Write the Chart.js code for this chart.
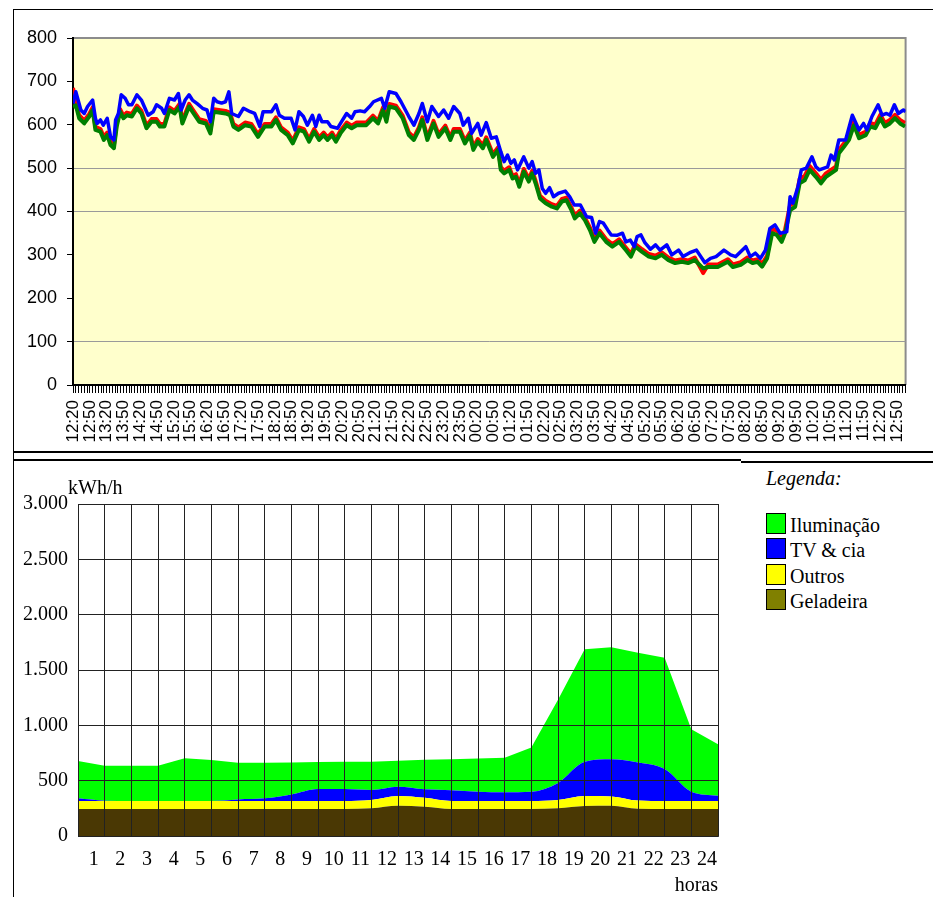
<!DOCTYPE html>
<html>
<head>
<meta charset="utf-8">
<script src="https://cdn.jsdelivr.net/npm/chart.js@4.4.1/dist/chart.umd.min.js"></script>
<style>
  body { margin: 0; background: #fff; width: 933px; height: 897px; position: relative; overflow: hidden; }
  canvas { position: absolute; }
  .line { position: absolute; background: #000; }
  .txt { position: absolute; font-family: 'Liberation Serif', 'Times New Roman', serif; font-size: 20px; line-height: 20px; color: #000; white-space: nowrap; }
  .box { position: absolute; width: 18px; height: 19px; border: 1.5px solid #000; }
</style>
</head>
<body>

<div class="line" style="left:13px; top:9px; width:920px; height:1px;"></div>
<div class="line" style="left:13px; top:9px; width:1px; height:888px;"></div>
<div class="line" style="left:13px; top:451px; width:920px; height:2px;"></div>
<div class="line" style="left:13px; top:459px; width:728px; height:2px;"></div>
<div class="line" style="left:741px; top:461px; width:192px; height:2px;"></div>

<canvas id="loadChart" width="919" height="440" style="left:14px; top:11px;"></canvas>
<canvas id="hourChart" width="726" height="435" style="left:14px; top:462px;"></canvas>

<div class="txt" style="left:68px; top:477px;">kWh/h</div>
<div class="txt" style="left:766px; top:468px; font-style:italic;">Legenda:</div>
<div id="legend"></div>

<script>
// ---- top chart: load curves; times are minutes after 12:20, read at each turn of the trace ----
const timeLabels = ['12:20','12:50','13:20','13:50','14:20','14:50','15:20','15:50','16:20','16:50',
    '17:20','17:50','18:20','18:50','19:20','19:50','20:20','20:50','21:20','21:50',
    '22:20','22:50','23:20','23:50','00:20','00:50','01:20','01:50','02:20','02:50',
    '03:20','03:50','04:20','04:50','05:20','05:50','06:20','06:50','07:20','07:50',
    '08:20','08:50','09:20','09:50','10:20','10:50','11:20','11:50','12:20','12:50'];

const blueTimes = [
    0, 5, 14, 20, 26, 35, 40, 43, 49, 54, 61, 67, 73, 76, 81, 86, 93, 99, 105, 114,
    122, 134, 143, 149, 158, 163, 172, 181, 188, 193, 200, 207, 213, 222, 231, 239, 245, 251, 257, 265,
    272, 278, 283, 295, 304, 316, 324, 333, 339, 354, 362, 368, 377, 389, 396, 403, 411, 418, 427, 433,
    439, 444, 454, 460, 472, 479, 488, 497, 503, 512, 520, 529, 536, 550, 556, 564, 576, 585, 599, 608,
    617, 623, 632, 640, 652, 661, 670, 679, 690, 696, 705, 711, 722, 728, 737, 746, 755, 763, 769, 775,
    781, 787, 793, 804, 813, 819, 825, 831, 837, 843, 850, 857, 866, 878, 886, 894, 905, 916, 925, 932,
    939, 946, 954, 960, 970, 980, 986, 994, 1001, 1006, 1013, 1020, 1030, 1039, 1047, 1059, 1068, 1080, 1088, 1100,
    1112, 1127, 1137, 1147, 1161, 1173, 1182, 1200, 1208, 1217, 1226, 1235, 1243, 1252, 1261, 1273, 1279, 1284, 1293, 1299,
    1308, 1318, 1325, 1331, 1346, 1352, 1358, 1366, 1378, 1390, 1402, 1410, 1416, 1425, 1436, 1443, 1451, 1457, 1465, 1472,
    1481, 1485];
const blueValues = [
    649, 676, 634, 626, 642, 657, 615, 603, 611, 599, 615, 572, 565, 611, 626, 669, 661, 646, 646, 669,
    657, 622, 630, 646, 638, 626, 661, 657, 672, 634, 657, 669, 657, 648, 638, 634, 607, 661, 653, 650,
    653, 676, 626, 619, 638, 630, 626, 596, 630, 630, 646, 622, 615, 615, 588, 630, 619, 599, 622, 596,
    622, 607, 607, 596, 592, 607, 626, 615, 630, 632, 630, 642, 653, 661, 638, 676, 672, 653, 619, 599,
    626, 649, 607, 642, 619, 634, 615, 642, 626, 599, 615, 580, 603, 576, 605, 569, 572, 538, 515, 530,
    511, 519, 496, 526, 500, 515, 488, 496, 453, 442, 455, 434, 442, 447, 434, 415, 415, 388, 386, 350,
    377, 373, 357, 346, 345, 350, 330, 334, 319, 342, 346, 328, 313, 323, 311, 323, 300, 311, 296, 305,
    311, 282, 292, 296, 311, 300, 296, 319, 296, 304, 292, 311, 361, 369, 350, 353, 434, 419, 457, 496,
    500, 526, 503, 496, 503, 530, 519, 565, 565, 622, 588, 603, 588, 619, 646, 622, 626, 622, 646, 626,
    634, 630];

const greenTimes = [
    0, 5, 11, 20, 29, 35, 40, 49, 55, 61, 67, 73, 78, 84, 90, 96, 105, 114, 122, 131,
    140, 149, 155, 163, 172, 181, 190, 195, 207, 213, 225, 237, 245, 251, 272, 280, 286, 295, 307, 318,
    330, 342, 354, 362, 371, 383, 392, 403, 412, 421, 430, 439, 447, 454, 462, 469, 477, 488, 497, 506,
    523, 535, 544, 553, 559, 564, 576, 588, 599, 608, 617, 623, 632, 643, 652, 664, 673, 679, 690, 699,
    708, 714, 722, 731, 737, 749, 758, 763, 769, 778, 784, 790, 796, 804, 813, 819, 825, 833, 843, 854,
    863, 872, 880, 889, 895, 904, 913, 922, 930, 939, 951, 962, 974, 986, 995, 1003, 1015, 1027, 1039, 1050,
    1062, 1074, 1086, 1097, 1109, 1124, 1133, 1150, 1168, 1177, 1191, 1203, 1212, 1221, 1229, 1238, 1247, 1255, 1264, 1270,
    1279, 1288, 1296, 1305, 1314, 1325, 1334, 1343, 1352, 1361, 1366, 1375, 1384, 1393, 1402, 1414, 1422, 1431, 1440, 1448,
    1457, 1466, 1475, 1484];
const greenValues = [
    641, 645, 615, 603, 619, 634, 588, 584, 565, 576, 553, 546, 596, 630, 615, 622, 619, 638, 626, 592,
    607, 607, 596, 596, 634, 626, 642, 603, 642, 630, 607, 603, 580, 630, 626, 622, 596, 588, 599, 596,
    572, 596, 596, 611, 588, 576, 557, 588, 584, 561, 584, 565, 576, 565, 576, 561, 580, 599, 592, 599,
    599, 615, 603, 634, 607, 642, 638, 615, 576, 565, 588, 611, 565, 603, 572, 592, 565, 584, 584, 557,
    576, 542, 561, 546, 565, 526, 542, 496, 488, 496, 476, 480, 457, 492, 469, 488, 465, 430, 419, 411,
    407, 423, 426, 403, 384, 396, 380, 357, 330, 350, 330, 319, 330, 311, 296, 319, 307, 296, 292, 300,
    288, 281, 284, 281, 288, 269, 272, 272, 284, 272, 277, 288, 281, 284, 273, 292, 350, 346, 330, 350,
    403, 411, 465, 472, 496, 480, 465, 480, 488, 496, 534, 549, 565, 599, 569, 576, 596, 592, 615, 596,
    603, 615, 603, 596];

// red is read at the same instants as green
const redTimes = greenTimes;
const redValues = [
    685, 652, 622, 610, 625, 640, 595, 590, 572, 582, 560, 552, 604, 636, 621, 628, 625, 644, 632, 598,
    613, 613, 602, 602, 640, 632, 648, 609, 648, 636, 613, 609, 586, 636, 632, 628, 602, 594, 605, 602,
    578, 602, 602, 617, 594, 582, 563, 594, 590, 567, 590, 571, 582, 571, 582, 567, 586, 605, 598, 605,
    605, 621, 609, 640, 613, 648, 644, 621, 582, 571, 594, 617, 571, 609, 578, 598, 571, 590, 590, 563,
    582, 548, 567, 552, 571, 532, 548, 502, 494, 502, 482, 486, 463, 498, 475, 494, 471, 436, 425, 417,
    413, 429, 432, 409, 390, 402, 386, 363, 336, 356, 336, 325, 336, 317, 302, 325, 313, 302, 298, 306,
    294, 287, 290, 287, 294, 258, 278, 278, 290, 278, 283, 294, 287, 290, 279, 298, 360, 356, 340, 358,
    415, 421, 475, 482, 505, 488, 473, 488, 496, 504, 542, 557, 573, 607, 577, 584, 604, 600, 623, 604,
    611, 623, 611, 604];

const loadGridValues = [100, 400, 500];

// ---- bottom chart: hourly consumption by use ----
const hourMarks = ['0','1','2','3','4','5','6','7','8','9','10','11','12',
    '13','14','15','16','17','18','19','20','21','22','23','24'];
const geladeira = [244,244,244,244,244,244,244,244,244,244,244,250,274,265,244,244,244,244,250,272,274,246,244,244,244];
const outros    = [72,72,72,72,72,72,72,72,72,72,72,75,87,80,72,72,72,72,75,89,84,74,72,72,72];
const tvCia     = [24,3,1,1,1,1,14,24,59,109,108,90,84,77,97,84,79,84,155,310,335,345,289,84,48];
const iluminacao = [338,316,318,318,385,370,332,322,289,243,246,256,235,268,280,300,312,400,751,1016,1012,992,1005,564,464];
const kwhTickLabels = ['0','500','1.000','1.500','2.000','2.500','3.000'];

const legendItems = [
    { name: 'Iluminação', color: '#00ff00' },
    { name: 'TV & cia', color: '#0000ff' },
    { name: 'Outros', color: '#ffff00' },
    { name: 'Geladeira', color: '#808000' }
];

const toPoints = (times, values) => values.map((y, i) => ({ x: times[i], y: y }));

const plotBackground = {
    id: 'plotBackground',
    beforeDraw(chart) {
        const { ctx, chartArea } = chart;
        ctx.save();
        ctx.fillStyle = '#ffffcc';
        ctx.fillRect(chartArea.left, chartArea.top, chartArea.right - chartArea.left, chartArea.bottom - chartArea.top);
        ctx.strokeStyle = '#8c8c8c';
        ctx.lineWidth = 2;
        ctx.beginPath();
        ctx.moveTo(chartArea.left, chartArea.top);
        ctx.lineTo(chartArea.right, chartArea.top);
        ctx.lineTo(chartArea.right, chartArea.bottom);
        ctx.stroke();
        ctx.restore();
    }
};

const sansFont = { family: "'Liberation Sans', Arial, sans-serif", size: 17 };

new Chart(document.getElementById('loadChart').getContext('2d'), {
    type: 'line',
    data: {
        datasets: [
            { label: 'azul', data: toPoints(blueTimes, blueValues), borderColor: '#0000ff', borderWidth: 3.5, order: 1 },
            { label: 'verde', data: toPoints(greenTimes, greenValues), borderColor: '#008000', borderWidth: 4, order: 2 },
            { label: 'vermelho', data: toPoints(redTimes, redValues), borderColor: '#ff0000', borderWidth: 4, order: 3 }
        ]
    },
    options: {
        responsive: false,
        animation: false,
        devicePixelRatio: 1,
        layout: { padding: { top: 27, right: 15, left: 0, bottom: 0 } },
        elements: { point: { radius: 0 }, line: { tension: 0, borderJoinStyle: 'round' } },
        plugins: { legend: { display: false }, tooltip: { enabled: false } },
        scales: {
            x: {
                type: 'linear',
                min: 0,
                max: 1485,
                afterFit: (scale) => { scale.height = 66; },
                grid: {
                    display: true,
                    drawOnChartArea: false,
                    drawTicks: true,
                    tickLength: 8,
                    color: '#000',
                    tickColor: '#000',
                    lineWidth: 1,
                    tickWidth: 1
                },
                border: { color: '#000', width: 2 },
                ticks: {
                    stepSize: 5,
                    autoSkip: false,
                    maxRotation: 90,
                    minRotation: 90,
                    padding: 7,
                    color: '#000',
                    font: sansFont,
                    callback: (v) => (v % 30 === 0 ? timeLabels[v / 30] : '')
                }
            },
            y: {
                min: 0,
                max: 800,
                afterFit: (scale) => { scale.width = 59; },
                grid: {
                    color: (ctx) => (loadGridValues.includes(ctx.tick && ctx.tick.value) ? '#9a9a9a' : 'rgba(0,0,0,0)'),
                    tickColor: '#000',
                    tickLength: 6
                },
                border: { color: '#000', width: 2 },
                ticks: { stepSize: 100, padding: 10, color: '#000', font: { family: sansFont.family, size: 18 } }
            }
        }
    },
    plugins: [plotBackground]
});

const serifFont = { family: "'Liberation Serif', 'Times New Roman', serif", size: 20 };

const areaSet = (label, values, color, fill, mode) => ({
    label: label,
    data: values,
    backgroundColor: color,
    borderColor: 'rgba(0,0,0,0)',
    borderWidth: 0,
    fill: fill,
    pointRadius: 0,
    cubicInterpolationMode: mode,
    tension: mode === 'monotone' ? 0.4 : 0
});

new Chart(document.getElementById('hourChart').getContext('2d'), {
    type: 'line',
    data: {
        labels: hourMarks,
        datasets: [
            areaSet('Geladeira', geladeira, '#4a3804', 'origin', 'monotone'),
            areaSet('Outros', outros, '#ffff00', '-1', 'monotone'),
            areaSet('TV & cia', tvCia, '#0000ff', '-1', 'monotone'),
            areaSet('Iluminação', iluminacao, '#00ff00', '-1', 'default')
        ]
    },
    options: {
        responsive: false,
        animation: false,
        devicePixelRatio: 1,
        layout: { padding: { top: 42, right: 17, left: 0, bottom: 0 } },
        plugins: { legend: { display: false }, tooltip: { enabled: false } },
        scales: {
            x: {
                offset: false,
                afterFit: (scale) => { scale.height = 61; },
                grid: { color: '#222', drawTicks: false, z: 1 },
                border: { color: '#444', z: 1 },
                ticks: {
                    autoSkip: false,
                    maxRotation: 0,
                    padding: 12,
                    labelOffset: -11,
                    color: '#000',
                    font: serifFont,
                    callback: (v, i) => (i === 0 ? '' : hourMarks[i])
                },
                title: {
                    display: true,
                    text: 'horas',
                    align: 'end',
                    color: '#000',
                    font: { family: serifFont.family, size: 20, lineHeight: 1 },
                    padding: { top: 0, bottom: 1 }
                }
            },
            y: {
                stacked: true,
                min: 0,
                max: 3000,
                afterFit: (scale) => { scale.width = 64; },
                grid: { color: '#222', drawTicks: false, z: 1 },
                border: { color: '#222', z: 1 },
                ticks: {
                    stepSize: 500,
                    padding: 10,
                    color: '#000',
                    font: serifFont,
                    callback: (v) => kwhTickLabels[v / 500]
                }
            }
        }
    }
});

// legend block on the right, same order as the picture
const legendBox = document.getElementById('legend');
legendItems.forEach((item, i) => {
    const top = 513 + i * 25.3;
    const sw = document.createElement('div');
    sw.className = 'box';
    sw.style.left = '766px';
    sw.style.top = top + 'px';
    sw.style.background = item.color;
    legendBox.appendChild(sw);
    const label = document.createElement('div');
    label.className = 'txt';
    label.style.left = '790px';
    label.style.top = (top + 2) + 'px';
    label.textContent = item.name;
    legendBox.appendChild(label);
});
</script>
</body>
</html>
